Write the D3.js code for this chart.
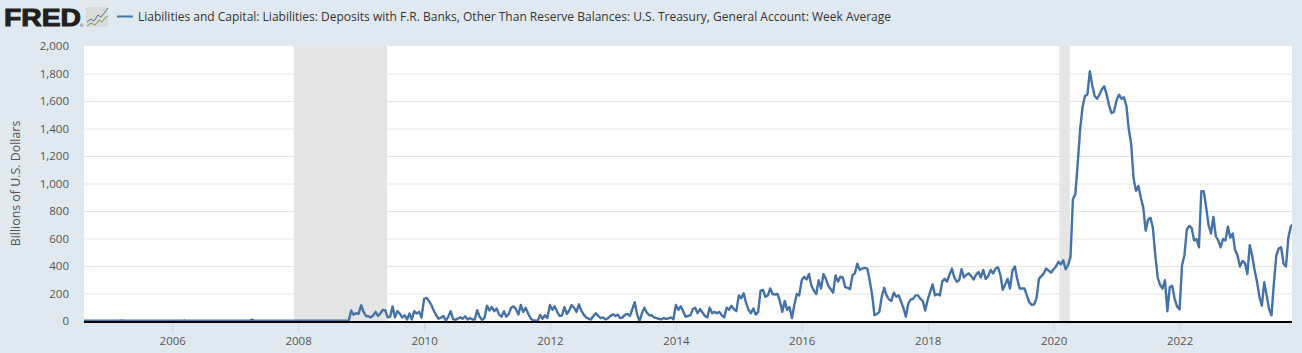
<!DOCTYPE html>
<html>
<head>
<meta charset="utf-8">
<script src="https://cdn.jsdelivr.net/npm/d3@7"></script>
<style>
  html, body { margin: 0; padding: 0; background: #e1e9f0; }
  text { font-family: 'Open Sans', sans-serif; }
</style>
</head>
<body>
<svg id="chart" width="1302" height="353"></svg>
<script>
const seriesTitle = 'Liabilities and Capital: Liabilities: Deposits with F.R. Banks, Other Than Reserve Balances: U.S. Treasury, General Account: Week Average'
const yLabel = 'Billions of U.S. Dollars'
const yTicks = [0, 200, 400, 600, 800, 1000, 1200, 1400, 1600, 1800, 2000]

// values, one every two weeks
const v2004 = [5, 6, 5, 5, 6, 5, 6, 5, 5, 6]
const v2005 = [6, 5, 5, 6, 5, 7, 5, 5, 6, 5, 5, 6, 5, 5, 6, 5, 6, 5, 5, 6, 5, 5, 6, 5, 6, 5]
const v2006 = [6, 5, 5, 6, 5, 8, 5, 5, 6, 5, 6, 5, 5, 6, 5, 5, 6, 5, 5, 6, 5, 6, 5, 5, 6, 5]
const v2007 = [5, 6, 5, 5, 6, 5, 5, 14, 5, 5, 6, 5, 5, 6, 5, 5, 6, 5, 6, 5, 5, 6, 5, 5, 6, 5]
const v2008 = [5, 6, 5, 5, 6, 5, 5, 6, 5, 5, 6, 5, 5, 6, 5, 5, 6, 5, 5, 6, 5, 8, 80, 50, 60, 55]
const v2009 = [118, 70, 40, 38, 30, 45, 70, 40, 60, 85, 80, 30, 35, 110, 30, 75, 58, 30, 45, 15, 58, 15, 75, 58, 70, 28]
const v2010 = [165, 172, 150, 120, 80, 45, 20, 28, 40, 5, 35, 75, 18, 12, 22, 30, 20, 38, 15, 25, 15, 15, 82, 35, 12, 25]
const v2011 = [115, 80, 105, 75, 95, 50, 35, 75, 35, 55, 100, 110, 90, 50, 120, 70, 100, 60, 25, 8, 8, 5, 48, 20, 45, 25]
const v2012 = [120, 85, 110, 70, 40, 45, 105, 55, 80, 120, 100, 70, 125, 80, 50, 30, 20, 15, 40, 60, 40, 25, 30, 15, 22, 40]
const v2013 = [52, 40, 50, 25, 30, 50, 55, 40, 90, 140, 50, 3, 60, 100, 65, 45, 45, 30, 25, 20, 15, 25, 20, 22, 30, 15]
const v2014 = [120, 85, 110, 75, 35, 40, 45, 90, 100, 60, 90, 65, 40, 30, 100, 60, 70, 60, 70, 45, 30, 100, 85, 115, 90, 75]
const v2015 = [190, 170, 205, 135, 85, 60, 95, 50, 70, 225, 230, 180, 190, 240, 200, 195, 200, 150, 70, 150, 85, 105, 25, 120, 200, 190]
const v2016 = [300, 325, 305, 345, 260, 225, 200, 300, 240, 345, 310, 260, 235, 210, 335, 290, 325, 320, 250, 245, 235, 335, 350, 420, 375, 385]
const v2017 = [390, 385, 300, 195, 45, 55, 70, 180, 245, 190, 160, 150, 210, 180, 190, 145, 95, 35, 130, 160, 165, 190, 190, 165, 150, 80]
const v2018 = [160, 215, 270, 190, 200, 190, 290, 310, 290, 340, 385, 320, 290, 300, 380, 320, 340, 350, 330, 305, 340, 360, 320, 375, 310, 330]
const v2019 = [375, 350, 385, 395, 340, 230, 270, 310, 240, 370, 400, 310, 240, 240, 240, 190, 140, 120, 125, 170, 310, 330, 350, 385, 370, 355]
const v2020 = [380, 400, 435, 415, 445, 380, 410, 470, 890, 925, 1150, 1400, 1560, 1640, 1650, 1820, 1720, 1640, 1620, 1650, 1690, 1710, 1650, 1570, 1516, 1525]
const v2021 = [1613, 1650, 1620, 1630, 1570, 1400, 1290, 1040, 950, 985, 900, 830, 660, 740, 755, 680, 480, 320, 265, 240, 300, 75, 250, 260, 165, 110]
const v2022 = [88, 410, 482, 670, 695, 680, 590, 600, 540, 947, 947, 830, 700, 640, 760, 620, 590, 540, 600, 590, 690, 610, 640, 520, 480, 400]
const v2023 = [440, 425, 345, 555, 480, 375, 290, 180, 115, 285, 190, 90, 45, 280, 480, 530, 540, 420, 400, 610, 690, 710]

const valuesByYear = [
  [2005, v2005], [2006, v2006], [2007, v2007], [2008, v2008], [2009, v2009],
  [2010, v2010], [2011, v2011], [2012, v2012], [2013, v2013], [2014, v2014],
  [2015, v2015], [2016, v2016], [2017, v2017], [2018, v2018], [2019, v2019],
  [2020, v2020], [2021, v2021], [2022, v2022], [2023, v2023]
]

const recessions = [
  [new Date(2007, 11, 8), new Date(2009, 5, 1)],
  [new Date(2020, 1, 4), new Date(2020, 3, 4)]
]

// little chart next to the logo
const logoBlueLine = [[1, 15], [5, 12], [8, 14], [12, 8], [15, 10], [19, 5], [22, 1]]
const logoGreenLine = [[1, 19], [5, 16], [9, 18], [13, 13], [16, 15], [19, 11], [22, 9]]

const margin = { top: 46, left: 84, right: 10, bottom: 31 }
const width = 1302
const height = 353

const points = v2004.map((d, i) => ({ date: new Date(2004, 7, 7 + i * 14), value: d }))
valuesByYear.forEach(([year, values]) => {
  values.forEach((d, i) => points.push({ date: new Date(year, 0, 1 + i * 14), value: d }))
})

const x = d3
  .scaleTime()
  .domain([new Date(2004, 7, 7), new Date(2023, 9, 15)])
  .range([margin.left, width - margin.right])
const y = d3
  .scaleLinear()
  .domain([0, 2000])
  .range([321.5, 46.5])

const svg = d3.select('#chart')

svg
  .append('rect')
  .attr('x', margin.left)
  .attr('y', margin.top)
  .attr('width', width - margin.left - margin.right)
  .attr('height', 322 - margin.top)
  .attr('fill', 'white')

svg
  .selectAll('.grid')
  .data(yTicks.filter(d => d > 0 && d < 2000))
  .enter()
  .append('line')
  .attr('class', 'grid')
  .attr('x1', margin.left)
  .attr('x2', width - margin.right)
  .attr('y1', d => y(d))
  .attr('y2', d => y(d))
  .attr('stroke', '#e6e6e6')

svg
  .selectAll('.recession')
  .data(recessions)
  .enter()
  .append('rect')
  .attr('class', 'recession')
  .attr('x', d => x(d[0]))
  .attr('width', d => x(d[1]) - x(d[0]))
  .attr('y', margin.top)
  .attr('height', 322 - margin.top)
  .attr('fill', '#e5e5e5')

// y axis, labels only
const yAxis = d3
  .axisLeft(y)
  .tickValues(yTicks)
  .tickSize(0)
  .tickPadding(0)
  .tickFormat(d3.format(','))
svg
  .append('g')
  .attr('transform', 'translate(69,-0.5)')
  .call(yAxis)
  .call(g => g.select('.domain').remove())
  .selectAll('text')
  .attr('fill', '#555')
  .style('font-size', '11.5px')
  .style('font-family', "'Open Sans', sans-serif")

const xAxis = d3
  .axisBottom(x)
  .ticks(d3.timeYear.every(2))
  .tickSize(10)
  .tickPadding(5)
  .tickFormat(d3.timeFormat('%Y'))
svg
  .append('g')
  .attr('transform', 'translate(0,322)')
  .call(xAxis)
  .call(g => g.select('.domain').remove())
  .call(g => g.selectAll('line').attr('stroke', '#ccd6eb'))
  .selectAll('text')
  .attr('fill', '#555')
  .style('font-size', '11.5px')
  .style('font-family', "'Open Sans', sans-serif")

svg
  .append('defs')
  .append('clipPath')
  .attr('id', 'plot-clip')
  .append('rect')
  .attr('x', margin.left)
  .attr('y', margin.top)
  .attr('width', width - margin.left - margin.right)
  .attr('height', 322 - margin.top)

const line = d3
  .line()
  .x(d => x(d.date))
  .y(d => y(d.value))

svg
  .append('path')
  .datum(points)
  .attr('clip-path', 'url(#plot-clip)')
  .attr('d', line)
  .attr('fill', 'none')
  .attr('stroke', '#4572a7')
  .attr('stroke-width', 2.4)
  .attr('stroke-linejoin', 'round')

svg
  .append('line')
  .attr('x1', margin.left)
  .attr('x2', width - margin.right)
  .attr('y1', 322)
  .attr('y2', 322)
  .attr('stroke', 'black')
  .attr('stroke-width', 2)

svg
  .append('text')
  .attr('transform', 'translate(20,183.5) rotate(-90)')
  .attr('text-anchor', 'middle')
  .attr('fill', '#555')
  .style('font-size', '12.4px')
  .text(yLabel)

// header: logo and legend
svg
  .append('text')
  .attr('x', 4)
  .attr('y', 26)
  .attr('textLength', 77)
  .attr('lengthAdjust', 'spacingAndGlyphs')
  .attr('fill', '#231f20')
  .attr('stroke', '#231f20')
  .attr('stroke-width', 1)
  .style('font-family', "'Liberation Sans', sans-serif")
  .style('font-weight', 700)
  .style('font-size', '24.5px')
  .text('FRED')

svg
  .append('text')
  .attr('x', 80)
  .attr('y', 27)
  .attr('fill', '#231f20')
  .style('font-size', '4px')
  .text('®')

const icon = svg.append('g').attr('transform', 'translate(86,7)')
icon
  .append('rect')
  .attr('width', 22)
  .attr('height', 20)
  .attr('rx', 2)
  .attr('fill', '#d9dcd9')

const iconLine = d3.line()
icon
  .append('path')
  .attr('d', iconLine(logoBlueLine))
  .attr('fill', 'none')
  .attr('stroke', '#4d7396')
icon
  .append('path')
  .attr('d', iconLine(logoGreenLine))
  .attr('fill', 'none')
  .attr('stroke', '#7f9a55')

svg
  .append('line')
  .attr('x1', 117)
  .attr('x2', 133)
  .attr('y1', 16.5)
  .attr('y2', 16.5)
  .attr('stroke', '#4572a7')
  .attr('stroke-width', 2)

svg
  .append('text')
  .attr('x', 138)
  .attr('y', 21)
  .attr('fill', '#333')
  .style('font-size', '12px')
  .text(seriesTitle)
</script>
</body>
</html>
